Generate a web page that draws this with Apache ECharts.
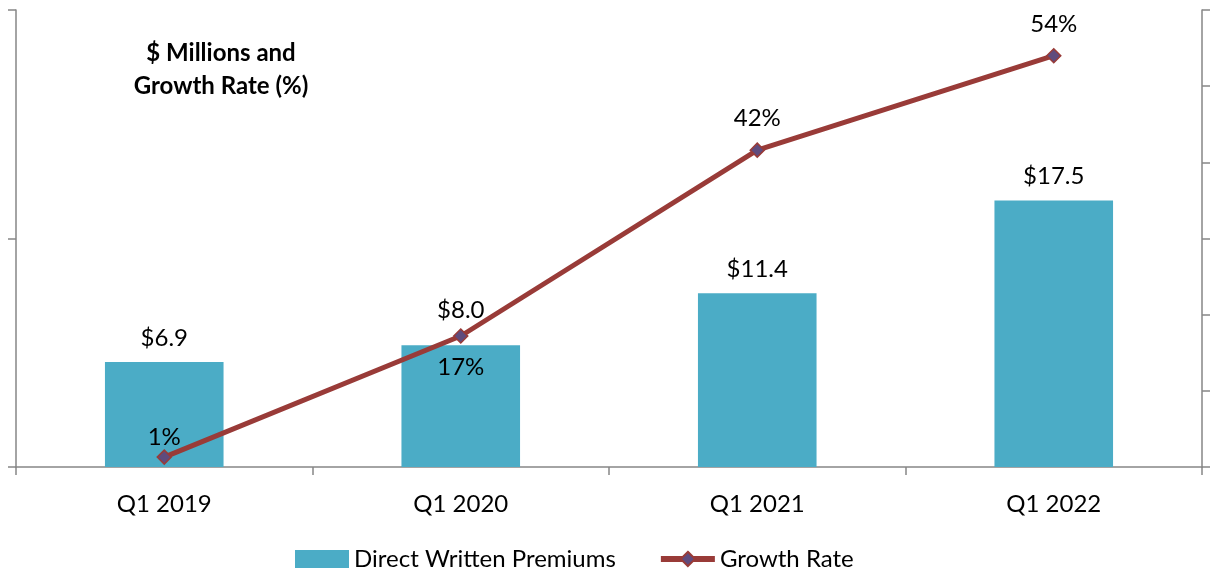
<!DOCTYPE html>
<html>
<head>
<meta charset="utf-8">
<script src="https://cdn.jsdelivr.net/npm/echarts@6/dist/echarts.min.js"></script>
<style>
  html, body { margin: 0; padding: 0; background: #fff; }
  #chart { width: 1212px; height: 574px; }
</style>
</head>
<body>
<div id="chart"></div>
<script>
const categories = ['Q1 2019', 'Q1 2020', 'Q1 2021', 'Q1 2022'];
const premiums = [6.9, 8.0, 11.4, 17.5];
const growthRate = [1.3, 17.2, 41.6, 54];
const growthLabels = ['1%', '17%', '42%', '54%'];

const font = 'Lato, "Open Sans", sans-serif';
const axisColor = '#868686';
const lineColor = '#993B38';

const chart = echarts.init(document.getElementById('chart'));

// the $8.0 label sits a bit higher so the line does not cross it
const barData = premiums.map((v, i) => ({
  value: v,
  label: i === 1 ? { distance: 23 } : {}
}));

const lineData = growthRate.map((v, i) => ({
  value: v,
  label: {
    position: i === 1 ? 'bottom' : 'top',
    distance: i === 0 ? 0 : 12,
    formatter: growthLabels[i]
  }
}));

chart.setOption({
  animation: false,
  textStyle: { fontFamily: font },
  title: {
    text: '$ Millions and\nGrowth Rate (%)',
    left: 216,
    top: 32,
    textAlign: 'center',
    textStyle: { fontFamily: font, fontSize: 24, fontWeight: 'bold', lineHeight: 33, color: '#000' }
  },
  legend: {
    top: 542,
    left: 290,
    itemGap: 42,
    itemWidth: 54,
    itemHeight: 18,
    textStyle: { fontFamily: font, fontSize: 24, color: '#000' },
    data: [
      { name: 'Direct Written Premiums', icon: 'rect' },
      { name: 'Growth Rate', lineStyle: { width: 6 } }
    ]
  },
  grid: { left: 16, right: 10, top: 10, bottom: 107 },
  xAxis: {
    type: 'category',
    data: categories,
    axisLine: { lineStyle: { color: axisColor, width: 1.5 } },
    axisTick: { show: true, length: 8, lineStyle: { color: axisColor, width: 1.5 } },
    axisLabel: { fontSize: 24, color: '#000', margin: 25 }
  },
  yAxis: [
    {
      type: 'value', min: 0, max: 30, interval: 15,
      axisLine: { show: true, lineStyle: { color: axisColor, width: 1.5 } },
      axisTick: { show: true, length: 8, lineStyle: { color: axisColor, width: 1.5 } },
      axisLabel: { show: false },
      splitLine: { show: false }
    },
    {
      type: 'value', min: 0, max: 60, interval: 10, position: 'right',
      axisLine: { show: true, lineStyle: { color: axisColor, width: 1.5 } },
      axisTick: { show: true, length: 8, lineStyle: { color: axisColor, width: 1.5 } },
      axisLabel: { show: false },
      splitLine: { show: false }
    }
  ],
  series: [
    {
      name: 'Direct Written Premiums',
      type: 'bar',
      barWidth: '40%',
      data: barData,
      itemStyle: { color: '#4BACC6' },
      label: {
        show: true,
        position: 'top',
        distance: 12,
        fontSize: 24,
        color: '#000',
        formatter: p => '$' + p.value.toFixed(1)
      }
    },
    {
      name: 'Growth Rate',
      type: 'line',
      yAxisIndex: 1,
      data: lineData,
      symbol: 'diamond',
      symbolSize: 14,
      lineStyle: { color: lineColor, width: 5 },
      itemStyle: { color: '#5F4B7D', borderColor: lineColor, borderWidth: 1.5 },
      label: { show: true, fontSize: 24, color: '#000' },
      z: 3
    }
  ]
});
</script>
</body>
</html>
